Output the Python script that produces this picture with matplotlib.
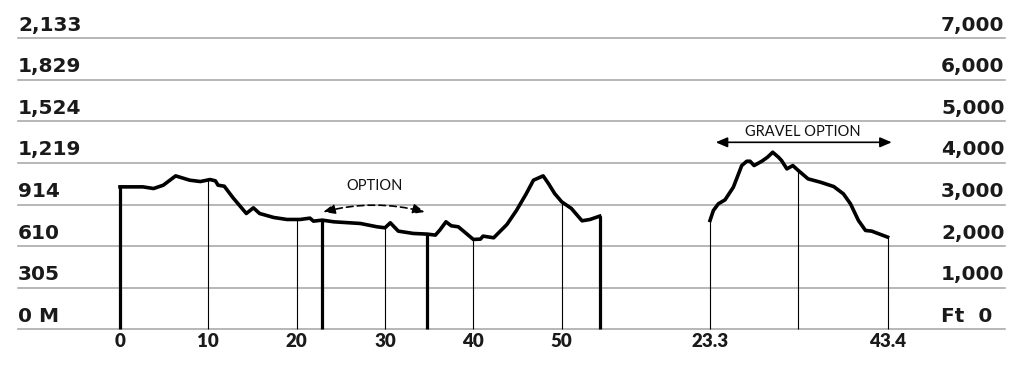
import numpy as np
import matplotlib.pyplot as plt

# main route (miles, feet)
main_mi = [0.0, 2.6, 3.8, 4.9, 6.3, 7.9, 9.1, 10.2, 10.8, 11.1, 11.8, 12.8, 14.3, 15.1,
           15.8, 17.4, 18.9, 20.4, 21.5, 21.9, 22.9, 24.2, 27.2, 29.1, 30.0, 30.6, 31.5,
           33.2, 34.8, 35.7, 36.2, 36.9, 37.5, 38.3, 40.0, 40.8, 41.1, 42.3, 43.8, 44.9,
           46.0, 46.8, 47.9, 48.5, 49.2, 50.0, 51.1, 52.3, 53.2, 54.3]
main_ft = [3424, 3424, 3384, 3464, 3688, 3584, 3552, 3600, 3568, 3464, 3440, 3160, 2784,
           2920, 2784, 2688, 2640, 2640, 2672, 2600, 2624, 2584, 2544, 2464, 2440, 2560,
           2360, 2304, 2288, 2264, 2384, 2584, 2488, 2464, 2160, 2168, 2240, 2200, 2520,
           2864, 3264, 3584, 3688, 3504, 3264, 3064, 2904, 2608, 2640, 2720]

# gravel option (miles, feet)
gravel_mi = [23.3, 23.68, 24.24, 25.0, 25.94, 26.89, 27.46, 27.83, 28.29, 29.16, 29.8,
             30.4, 31.05, 31.4, 32.0, 32.67, 33.3, 34.4, 35.8, 37.3, 38.4, 39.2, 40.1,
             40.9, 41.6, 42.6, 43.4]
gravel_ft = [2616, 2856, 3016, 3112, 3416, 3936, 4040, 4040, 3936, 4040, 4136, 4256,
             4136, 4056, 3856, 3936, 3816, 3616, 3536, 3432, 3256, 3016, 2616, 2376,
             2360, 2280, 2216]

grid_ft = [0, 1000, 2000, 3000, 4000, 5000, 6000, 7000]
meter_labels = ["0 M", "305", "610", "914", "1,219", "1,524", "1,829", "2,133"]
feet_labels = ["Ft  0", "1,000", "2,000", "3,000", "4,000", "5,000", "6,000", "7,000"]

main_thin = [10, 20, 30, 40, 50]
main_thick = [0.0, 22.9, 34.8, 54.3]
main_ticks = [0, 10, 20, 30, 40, 50]
gravel_thin = [23.3, 33.3, 43.4]
gravel_ticks = [23.3, 43.4]
option_span = (23.0, 34.5)
gravel_span = (23.94, 43.87)

OFFSET = 43.49  # horizontal shift of the gravel panel
PX_MI = 8.834
PX_FT = 0.0416

fig = plt.figure(figsize=(10.24, 3.82), dpi=100)
ax = fig.add_axes([0, 0, 1, 1])
ax.set_xlim(-120 / PX_MI, (1024 - 120) / PX_MI)
ax.set_ylim((329.3 - 382) / PX_FT, 329.3 / PX_FT)
ax.axis("off")

GRID = "#a3a3a3"
INK = "#1a1a1a"
for y, ml, fl in zip(grid_ft, meter_labels, feet_labels):
    ax.axhline(y, xmin=18 / 1024, xmax=1005 / 1024, color=GRID, lw=1.1, zorder=1)
    ax.text(18 / 1024, y + 180, ml, transform=ax.get_yaxis_transform(),
            fontsize=14.5, fontweight="bold", color=INK, va="baseline", ha="left")
    ax.text(941 / 1024, y + 180, fl, transform=ax.get_yaxis_transform(),
            fontsize=14.5, fontweight="bold", color=INK, va="baseline", ha="left")

# profile lines
ax.plot(main_mi, main_ft, color="black", lw=2.6, solid_joinstyle="round", zorder=4)
gx = np.array(gravel_mi) + OFFSET
ax.plot(gx, gravel_ft, color="black", lw=2.6, solid_joinstyle="round", zorder=4)

for m in main_thin:
    ax.vlines(m, 0, np.interp(m, main_mi, main_ft), color="black", lw=0.8, zorder=3)
for m in main_thick:
    ax.vlines(m, 0, np.interp(m, main_mi, main_ft), color="black", lw=2.3, zorder=3)
for m in gravel_thin:
    ax.vlines(m + OFFSET, 0, np.interp(m, gravel_mi, gravel_ft), color="black",
              lw=0.8, zorder=3)

for m in main_ticks:
    ax.text(m, -305, f"{m}", ha="center", va="center", fontsize=13.5,
            fontweight="heavy", family="Lato", color=INK)
for m in gravel_ticks:
    ax.text(m + OFFSET, -305, f"{m}", ha="center", va="center", fontsize=13.5,
            fontweight="heavy", family="Lato", color=INK)

# annotations
ax.annotate("", xy=(option_span[1], 2820), xytext=(option_span[0], 2820),
            arrowprops=dict(arrowstyle="<|-|>,head_length=0.7,head_width=0.3",
                            ls=(0, (4, 2.5)), lw=1.2, color="black",
                            connectionstyle="arc3,rad=-0.13",
                            shrinkA=0, shrinkB=0))
ax.text(sum(option_span) / 2 + 0.1, 3445, "OPTION", ha="center", va="center",
        fontsize=10.5, family="Lato", color="#111111")

ax.annotate("", xy=(gravel_span[1] + OFFSET, 4495), xytext=(gravel_span[0] + OFFSET, 4495),
            arrowprops=dict(arrowstyle="<|-|>,head_length=0.7,head_width=0.3",
                            lw=1.2, color="black", shrinkA=0, shrinkB=0))
ax.text(33.82 + OFFSET, 4750, "GRAVEL OPTION", ha="center", va="center",
        fontsize=10.5, family="Lato", color="#111111")

fig.savefig("out.png", dpi=100)
